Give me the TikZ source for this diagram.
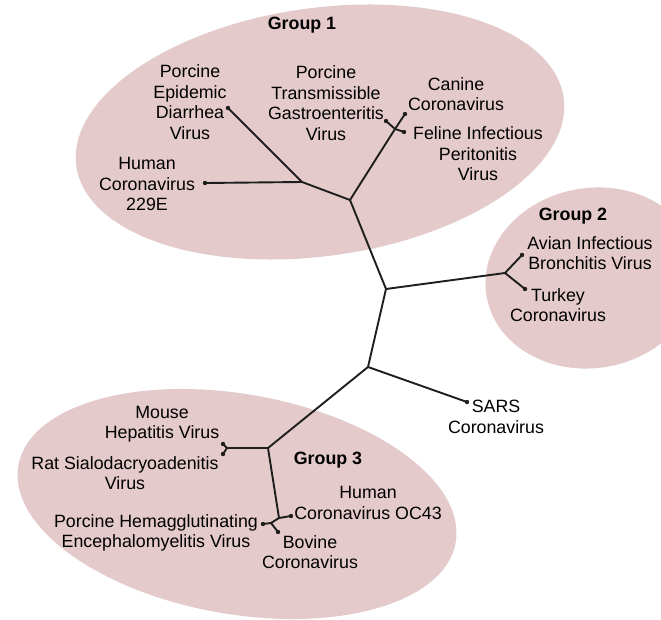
\documentclass[tikz,border=0pt]{standalone}
\usepackage{fontspec}
\setmainfont{Liberation Sans}
\begin{document}
\begin{tikzpicture}[x=1pt,y=-1pt,
  grp/.style={fill=groupfill},
  br/.style={draw=linecol,line width=1.9pt,line cap=round,line join=round},
  tip/.style={circle,fill=linecol,inner sep=0pt,minimum size=4.4pt},
  jn/.style={inner sep=0pt,minimum size=0pt},
  lbl/.style={align=center,inner sep=0pt,font=\fontsize{17.8}{20.5}\selectfont,text=black},
  glbl/.style={inner sep=0pt,font=\fontsize{17.8}{20.5}\selectfont\bfseries,text=black}]
\definecolor{groupfill}{HTML}{E4CACB}
\definecolor{linecol}{HTML}{1E1E1E}
\useasboundingbox (0,0) rectangle (661,620);
\fill[white] (0,0) rectangle (661,620);
% group ellipses
\fill[grp,rotate around={8:(320,132)}] (320,132) ellipse [x radius=246, y radius=124];
\fill[grp,rotate around={10:(592,278)}] (592,278) ellipse [x radius=107, y radius=90];
\fill[grp,rotate around={-10:(237,504)}] (237,504) ellipse [x radius=222, y radius=110];
% internal nodes
\node[jn] (A) at (350,200) {};
\node[jn] (g1L) at (302,182) {};
\node[jn] (g1R) at (395,129) {};
\node[jn] (B) at (386,289) {};
\node[jn] (C) at (505,273) {};
\node[jn] (D) at (368,367) {};
\node[jn] (E) at (268,448) {};
\node[jn] (H) at (227,448) {};
\node[jn] (F) at (279,518) {};
\node[jn] (G) at (271,523) {};
% tips
\node[tip] (pedv) at (228,108) {};
\node[tip] (hcov229) at (205,183) {};
\node[tip] (tgev) at (386,121) {};
\node[tip] (canine) at (405,114) {};
\node[tip] (feline) at (404,132) {};
\node[tip] (avian) at (522,255) {};
\node[tip] (turkey) at (525,289) {};
\node[tip] (sars) at (467,402) {};
\node[tip] (mhv) at (223,444) {};
\node[tip] (rsdv) at (223,454) {};
\node[tip] (oc43) at (291,516) {};
\node[tip] (phev) at (263,524) {};
\node[tip] (bovine) at (278,532) {};
% branches
\draw[br] (A.center) -- (g1L.center) -- (pedv.center);
\draw[br] (g1L.center) -- (hcov229.center);
\draw[br] (A.center) -- (g1R.center) -- (tgev.center);
\draw[br] (g1R.center) -- (canine.center);
\draw[br] (g1R.center) -- (feline.center);
\draw[br] (A.center) -- (B.center) -- (C.center) -- (avian.center);
\draw[br] (C.center) -- (turkey.center);
\draw[br] (B.center) -- (D.center) -- (sars.center);
\draw[br] (D.center) -- (E.center) -- (H.center) -- (mhv.center);
\draw[br] (H.center) -- (rsdv.center);
\draw[br] (E.center) -- (F.center) -- (oc43.center);
\draw[br] (F.center) -- (G.center) -- (phev.center);
\draw[br] (G.center) -- (bovine.center);
% labels
\node[glbl] (l1) at (302,25) {Group 1};
\node[glbl] (l2) at (573,216) {Group 2};
\node[glbl] (l3) at (328,460) {Group 3};
\node[lbl] (tpedv) at (190,102) {Porcine\\Epidemic\\Diarrhea\\Virus};
\node[lbl] (ttgev) at (326,103) {Porcine\\Transmissible\\Gastroenteritis\\Virus};
\node[lbl] (tcanine) at (456,94) {Canine\\Coronavirus};
\node[lbl] (tfeline) at (478,154) {Feline Infectious\\Peritonitis\\Virus};
\node[lbl] (thcov) at (147,184) {Human\\Coronavirus\\229E};
\node[lbl] (tavian) at (590,253) {Avian Infectious\\Bronchitis Virus};
\node[lbl] (tturkey) at (558,305) {Turkey\\Coronavirus};
\node[lbl] (tsars) at (496,417) {SARS\\Coronavirus};
\node[lbl] (tmhv) at (162,424) {Mouse\\Hepatitis Virus};
\node[lbl] (trsdv) at (125,473) {Rat Sialodacryoadenitis\\Virus};
\node[lbl] (toc43) at (368,503) {Human\\Coronavirus OC43};
\node[lbl] (tphev) at (156,533) {Porcine Hemagglutinating\\Encephalomyelitis Virus};
\node[lbl] (tbov) at (310,552) {Bovine\\Coronavirus};
\end{tikzpicture}
\end{document}
